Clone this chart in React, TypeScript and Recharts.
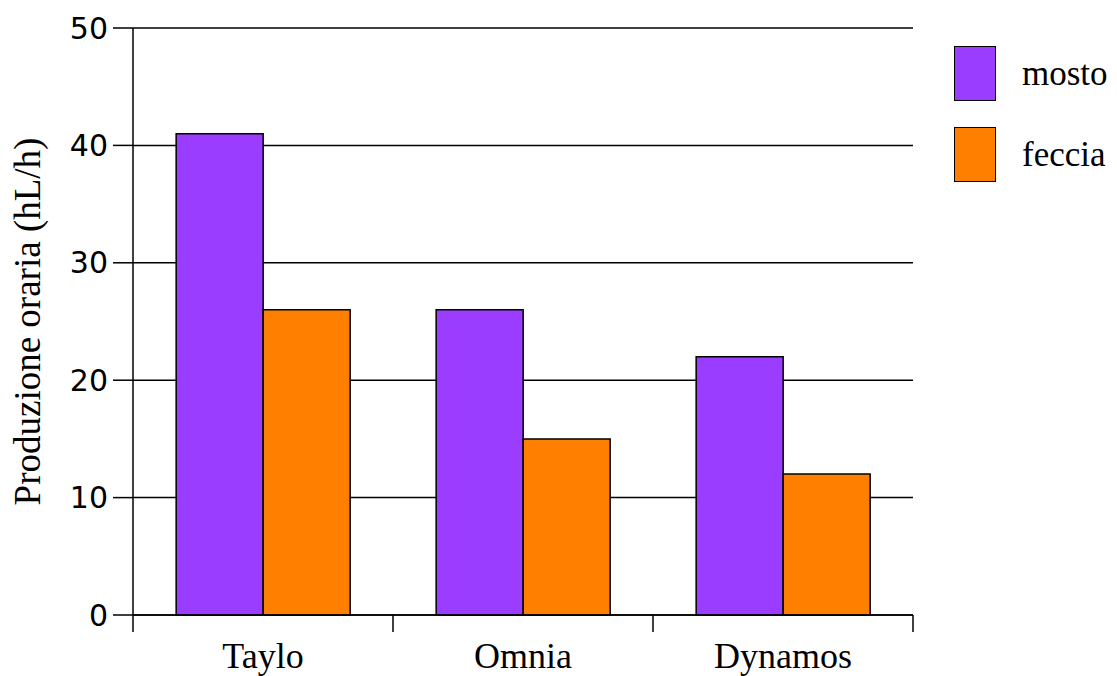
import React from "react";
import { BarChart, Bar, XAxis, YAxis, CartesianGrid } from "recharts";

const categories = ["Taylo", "Omnia", "Dynamos"];
const mosto = [41, 26, 22];
const feccia = [26, 15, 12];
const yTicks = [0, 10, 20, 30, 40, 50];
const seriesNames = ["mosto", "feccia"];
const seriesColors = ["#9a3dff", "#ff8000"];
const yLabel = "Produzione oraria (hL/h)";

const data = categories.map((c, i) => ({ name: c, mosto: mosto[i], feccia: feccia[i] }));

const W = 1109;
const H = 668;
const MARGIN = { top: 20, right: 204, left: 0, bottom: 0 };
const Y_WIDTH = 125;
const X_HEIGHT = 61;
const PLOT_W = W - MARGIN.left - MARGIN.right - Y_WIDTH;
const BAND = PLOT_W / categories.length;
const SERIF = "'Liberation Serif', 'Times New Roman', serif";
const SANS = "'DejaVu Sans', sans-serif";

const XTick = (props: any) => {
  const { x, y, payload, index } = props;
  const left = x - BAND / 2;
  const right = x + BAND / 2;
  return (
    <g>
      <line x1={left} x2={left} y1={y} y2={y + 17} stroke="#000" strokeWidth={1.5} />
      {index === categories.length - 1 && (
        <line x1={right} x2={right} y1={y} y2={y + 17} stroke="#000" strokeWidth={1.5} />
      )}
      <text x={x} y={y + 53} textAnchor="middle" fontFamily={SERIF} fontSize={36} fill="#000">
        {payload.value}
      </text>
    </g>
  );
};

const YLabel = (props: any) => {
  const vb = props.viewBox;
  const cx = vb.x + 32;
  const cy = vb.y + vb.height / 2;
  return (
    <g transform={`rotate(-90, ${cx}, ${cy})`}>
      <text x={cx} y={cy} textAnchor="middle" fontFamily={SERIF} fontSize={37} fill="#000">
        {yLabel}
      </text>
    </g>
  );
};

export default function App() {
  return (
    <div style={{ position: "relative", width: W, height: H }}>
      <BarChart
        width={W}
        height={H}
        data={data}
        margin={MARGIN}
        barCategoryGap="16.6%"
        barGap={0}
      >
        <CartesianGrid horizontal vertical={false} stroke="#000" strokeWidth={1.5} />
        <XAxis
          dataKey="name"
          height={X_HEIGHT}
          tickLine={false}
          tickSize={0}
          tickMargin={0}
          axisLine={{ stroke: "#000", strokeWidth: 1.5 }}
          tick={<XTick />}
          interval={0}
        />
        <YAxis
          width={Y_WIDTH}
          domain={[0, 50]}
          ticks={yTicks}
          tickSize={20}
          tickMargin={5}
          axisLine={{ stroke: "#000", strokeWidth: 1.5 }}
          tickLine={{ stroke: "#000", strokeWidth: 1.5 }}
          tick={{ fill: "#000", fontFamily: SANS, fontSize: 30 }}
          label={<YLabel />}
        />
        <YAxis
          yAxisId="right"
          orientation="right"
          width={0}
          domain={[0, 50]}
          tick={false}
          tickLine={false}
          axisLine={{ stroke: "#000", strokeWidth: 1.5 }}
        />
        <Bar dataKey="mosto" fill={seriesColors[0]} stroke="#000" strokeWidth={1.5} isAnimationActive={false} />
        <Bar dataKey="feccia" fill={seriesColors[1]} stroke="#000" strokeWidth={1.5} isAnimationActive={false} />
      </BarChart>
      <div style={{ position: "absolute", left: 946, top: 38 }}>
        {seriesNames.map((n, i) => (
          <div key={n} style={{ display: "flex", alignItems: "center", height: 55, marginBottom: 26 }}>
            <div
              style={{
                width: 42,
                height: 55,
                boxSizing: "border-box",
                background: seriesColors[i],
                border: "1.5px solid #000",
              }}
            />
            <span
              style={{
                marginLeft: 26,
                fontFamily: SERIF,
                fontSize: 35,
                color: "#000",
                lineHeight: "55px",
              }}
            >
              {n}
            </span>
          </div>
        ))}
      </div>
    </div>
  );
}
